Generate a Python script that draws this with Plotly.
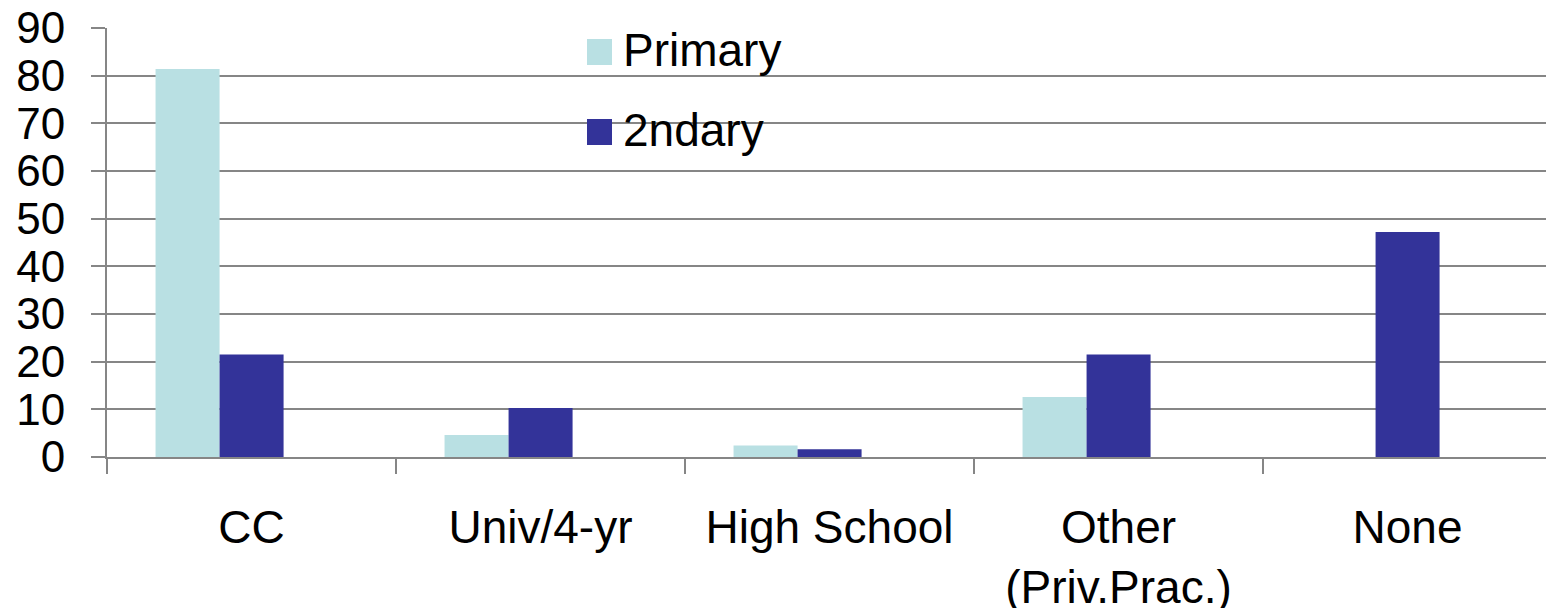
import plotly.graph_objects as go

categories = ["CC", "Univ/4-yr", "High School", "Other<br>(Priv.Prac.)", "None"]
series_names = ["Primary", "2ndary"]
primary = [81.4, 4.6, 2.4, 12.6, 0]
secondary = [21.5, 10.3, 1.6, 21.5, 47.2]
y_ticks = [0, 10, 20, 30, 40, 50, 60, 70, 80, 90]

col_primary = "#B9E0E3"
col_secondary = "#333399"
grid_col = "#868686"
FONT = "Liberation Sans, Arial, sans-serif"

# page body has an 8px margin; size the figure so the screenshot matches
OFF = 8
W, H = 1554 - OFF, 608 - OFF
L, R, T, B = 107 - OFF, 2, 28 - OFF, 608 - 457
pw, ph = W - L - R, H - T - B

def px_x(p):
    return (p - OFF - L) / pw

def px_y(p):
    return (H - B - (p - OFF)) / ph

bar_w = 0.2215
off0 = -0.332

fig = go.Figure()
fig.add_trace(go.Bar(x=categories, y=primary, name=series_names[0],
                     marker=dict(color=col_primary, line=dict(width=0)),
                     width=bar_w, offset=off0, showlegend=False))
fig.add_trace(go.Bar(x=categories, y=secondary, name=series_names[1],
                     marker=dict(color=col_secondary, line=dict(width=0)),
                     width=bar_w, offset=off0 + bar_w, showlegend=False))

# legend drawn manually (large squares)
legend_items = [(series_names[0], col_primary, 52), (series_names[1], col_secondary, 132)]
for name, col, cy in legend_items:
    fig.add_shape(type="rect", xref="paper", yref="paper",
                  x0=px_x(587), x1=px_x(612), y0=px_y(cy - 13), y1=px_y(cy + 13),
                  fillcolor=col, line=dict(width=0), layer="above")
    fig.add_annotation(text=name, xref="paper", yref="paper",
                       x=px_x(621), y=px_y(cy - 2), xanchor="left", yanchor="middle",
                       showarrow=False, font=dict(family=FONT, size=46, color="black"))

fig.update_layout(
    width=W, height=H,
    margin=dict(l=L, r=R, t=T, b=B, pad=0, autoexpand=False),
    plot_bgcolor="white", paper_bgcolor="white",
    barmode="overlay",
    showlegend=False,
    font=dict(family=FONT, size=46, color="black"),
)
fig.update_xaxes(
    automargin=False,
    showgrid=False, showline=True, linecolor=grid_col, linewidth=2,
    ticks="outside", tickson="boundaries", ticklen=15, tickwidth=2, tickcolor=grid_col,
    tickfont=dict(family=FONT, size=46, color="black"),
    ticklabelstandoff=29, ticklabeloverflow="allow",
)
fig.update_yaxes(
    automargin=False,
    range=[0, 90], tickvals=y_ticks, showgrid=True, gridcolor=grid_col, gridwidth=2,
    showline=True, linecolor=grid_col, linewidth=2,
    ticks="outside", ticklen=14, tickwidth=2, tickcolor=grid_col,
    tickfont=dict(family=FONT, size=44, color="black"),
    ticklabelstandoff=17, ticklabeloverflow="allow",
    zeroline=False,
)

fig.write_html("out.html")
